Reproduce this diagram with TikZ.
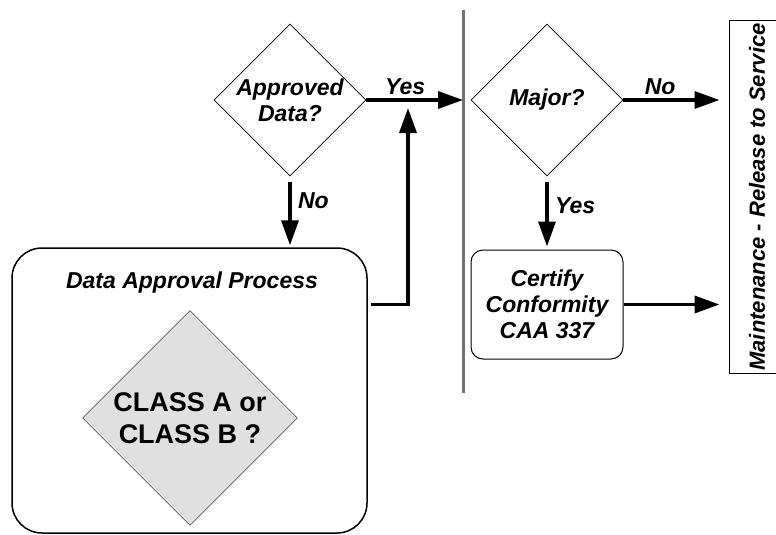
\documentclass[tikz,border=0pt]{standalone}
\usepackage{fontspec}
\setmainfont{Liberation Sans}
\usetikzlibrary{shapes.geometric,arrows.meta}

\begin{document}
\begin{tikzpicture}[x=1pt,y=-1pt,
    lbl/.style={font=\fontsize{23}{26}\selectfont\bfseries\itshape},
    decide/.style={diamond,draw,line width=0.8pt,inner sep=0pt,minimum size=152pt,align=center,lbl},
    arr/.style={line width=3.5pt,-{Triangle[length=25pt,width=17pt]}}]
    \useasboundingbox (0,0) rectangle (776,535);
    \clip (0,0) rectangle (776,535);
    % left side
    \node [decide] (appr) at (290,100) {Approved\\Data?};
    \node [draw,line width=1.5pt,rounded corners=30pt,minimum width=355pt,minimum height=285pt] (dap) at (189.5,390.5) {};
    \node [lbl] (daptitle) at (192,283) {Data Approval Process};
    \node [diamond,draw,fill=black!12,inner sep=0pt,minimum size=215pt,align=center,font=\fontsize{27}{32}\selectfont\bfseries] (cls) at (190,418) {CLASS A or\\ CLASS B ?};
    % bar
    \path (463,10) coordinate (bartop) -- (463,393) coordinate (barbot);
    \draw [black!55,line width=3pt] (bartop) -- (barbot);
    % right side
    \node [decide] (major) at (547,100) {Major?};
    \node [draw,line width=1pt,rounded corners=12pt,minimum width=152pt,minimum height=109pt,align=center,lbl] (cert) at (547,304.5) {Certify\\Conformity\\CAA 337};
    \node [draw,line width=1pt,rotate=90,minimum width=346pt,minimum height=56pt,lbl,font=\fontsize{22}{26}\selectfont\bfseries\itshape] (maint) at (757,197) {Maintenance - Release to Service};
    % arrows
    \coordinate (rettop) at (408,108);
    \draw [arr] (appr) -- (appr -| bartop) node [lbl,pos=0.4,above] {Yes};
    \draw [arr,shorten <=6pt,shorten >=2pt] (appr.south) -- (appr.south |- dap.north) node [lbl,pos=0.35,right,xshift=3pt] {No};
    \draw [arr,shorten <=3pt] (dap.east |- cert) -| (rettop);
    \draw [arr,shorten >=9pt] (major) -- (maint.north |- major) node [lbl,pos=0.35,above] {No};
    \draw [arr,shorten <=6pt,shorten >=3pt] (major.south) -- (cert.north) node [lbl,pos=0.4,right,xshift=3pt] {Yes};
    \draw [arr,shorten >=9pt] (cert) -- (maint.north |- cert);
\end{tikzpicture}
\end{document}
